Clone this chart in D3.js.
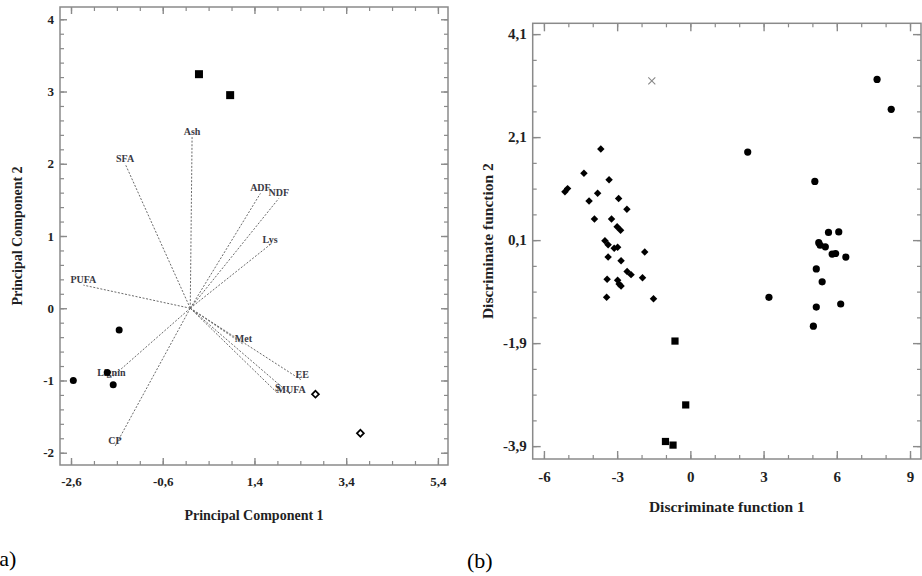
<!DOCTYPE html>
<html>
<head>
<meta charset="utf-8">
<script src="https://cdn.jsdelivr.net/npm/d3@7"></script>
<style>
  html, body { margin: 0; padding: 0; background: #fff; }
  svg { display: block; }
  text { font-family: "Liberation Serif", "DejaVu Serif", serif; }
</style>
</head>
<body>
<svg id="chart" width="922" height="576"></svg>
<script>
'use strict';

// ---- panel (a): PCA biplot ----
const pcaSquares  = [ [0.19, 3.24], [0.87, 2.95] ];
const pcaCircles  = [ [-1.55, -0.30], [-2.55, -1.00], [-1.81, -0.89], [-1.68, -1.06] ];
const pcaDiamonds = [ [2.73, -1.19], [3.71, -1.73] ];
const loadingNames = [ 'Ash', 'SFA', 'ADF', 'NDF', 'Lys', 'PUFA', 'Met', 'EE', 'S', 'MUFA', 'Lignin', 'CP' ];
const loadingX     = [ 0.04, -1.42, 1.53, 1.93, 1.74, -2.33, 1.16, 2.44, 1.91, 2.20, -1.72, -1.64 ];
const loadingY     = [ 2.37,  2.00, 1.59, 1.52, 0.88,  0.32, -0.50, -1.00, -1.18, -1.20, -0.96, -1.91 ];
const pcaXTicks = [ -2.6, -0.6, 1.4, 3.4, 5.4 ];
const pcaYTicks = [ -2, -1, 0, 1, 2, 3, 4 ];

// ---- panel (b): discriminant scores ----
const dfDiamonds = [
  [-3.67, 1.87], [-4.36, 1.40], [-3.33, 1.27], [-5.03, 1.10], [-5.14, 1.04],
  [-3.80, 1.01], [-4.15, 0.86], [-2.94, 0.91], [-2.60, 0.70], [-3.93, 0.51],
  [-3.23, 0.51], [-3.00, 0.36], [-2.86, 0.29], [-3.50, 0.09], [-3.37, 0.01],
  [-3.12, -0.06], [-2.98, -0.04], [-1.87, -0.13], [-3.37, -0.23], [-2.84, -0.30],
  [-2.59, -0.51], [-2.43, -0.57], [-1.96, -0.63], [-3.41, -0.66], [-2.98, -0.68],
  [-2.92, -0.75], [-2.84, -0.79], [-3.43, -1.01], [-1.51, -1.04]
];
const dfCircles = [
  [7.65, 3.22], [8.23, 2.64], [2.35, 1.81], [5.10, 1.24],
  [5.66, 0.25], [6.08, 0.26], [5.26, 0.05], [5.32, 0.00], [5.53, -0.03],
  [5.81, -0.17], [5.95, -0.16], [6.37, -0.23], [5.16, -0.46], [5.40, -0.71],
  [5.16, -1.20], [6.16, -1.14], [5.04, -1.57], [3.22, -1.01]
];
const dfSquares = [ [-0.63, -1.86], [-0.19, -3.10], [-1.02, -3.81], [-0.71, -3.88] ];
const dfCross   = [ [-1.58, 3.19] ];
const dfXTicks = [ -6, -3, 0, 3, 6, 9 ];
const dfYTicks = [ -3.9, -1.9, 0.1, 2.1, 4.1 ];

const svg = d3.select('#chart');
const frameColor = '#8a8a8a';
const textColor  = '#1f1f24';
const comma = (d) => String(d).replace('.', ',');

// draws frame + inward ticks on all four sides
function drawFrame(g, x, y, major, minor, opt) {
  const [x0, x1] = x.range(), [y1, y0] = y.range();
  const w = x1 - x0, h = y1 - y0;

  const sides = [
    { axis: d3.axisBottom, scale: x, t: `translate(0,${y1})` },
    { axis: d3.axisTop,    scale: x, t: `translate(0,${y0})` },
    { axis: d3.axisLeft,   scale: y, t: `translate(${x0},0)` },
    { axis: d3.axisRight,  scale: y, t: `translate(${x1},0)` }
  ];
  sides.forEach((s, i) => {
    const isX = i < 2;
    // minor
    g.append('g').attr('transform', s.t)
      .call(s.axis(s.scale).tickValues(isX ? minor.x : minor.y).tickSize(-opt.minorLen).tickFormat(''))
      .call(a => a.select('.domain').remove())
      .selectAll('line').attr('stroke', frameColor).attr('stroke-width', 1.2);
    // major
    g.append('g').attr('transform', s.t)
      .call(s.axis(s.scale).tickValues(isX ? major.x : major.y).tickSize(-opt.majorLen).tickFormat(''))
      .call(a => a.select('.domain').remove())
      .selectAll('line').attr('stroke', frameColor).attr('stroke-width', 1.4);
  });

  g.append('rect')
    .attr('x', x0).attr('y', y0).attr('width', w).attr('height', h)
    .attr('fill', 'none').attr('stroke', frameColor).attr('stroke-width', 1.5);

  // labels
  const bottom = g.append('g').attr('transform', `translate(0,${y1})`)
    .call(d3.axisBottom(x).tickValues(major.x).tickSize(0).tickPadding(opt.xPad).tickFormat(comma));
  bottom.select('.domain').remove();
  bottom.selectAll('text').attr('font-size', opt.tickFont).attr('font-weight', 'bold')
    .attr('font-family', '"Liberation Serif", serif').attr('fill', textColor);

  const left = g.append('g').attr('transform', `translate(${x0},0)`)
    .call(d3.axisLeft(y).tickValues(major.y).tickSize(0).tickPadding(opt.yPad).tickFormat(comma));
  left.select('.domain').remove();
  left.selectAll('text').attr('font-size', opt.tickFont).attr('font-weight', 'bold')
    .attr('font-family', '"Liberation Serif", serif').attr('fill', textColor);

  g.append('text')
    .attr('x', (x0 + x1) / 2).attr('y', opt.xTitleY)
    .attr('text-anchor', 'middle').attr('font-weight', 'bold')
    .attr('font-size', opt.titleFont).attr('fill', textColor)
    .text(opt.xTitle);
  g.append('text')
    .attr('transform', `translate(${opt.yTitleX},${(y0 + y1) / 2}) rotate(-90)`)
    .attr('text-anchor', 'middle').attr('dominant-baseline', 'central').attr('font-weight', 'bold')
    .attr('font-size', opt.titleFont).attr('fill', textColor)
    .text(opt.yTitle);
}

// ---------- panel (a) ----------
const xa = d3.scaleLinear().domain([-2.84, 5.62]).range([60, 448]);
const ya = d3.scaleLinear().domain([-2.17, 4.17]).range([465, 7]);
const ga = svg.append('g');

drawFrame(ga, xa, ya,
  { x: pcaXTicks, y: pcaYTicks },
  { x: d3.range(-2.6, 5.45, 0.5), y: d3.range(-2, 4.05, 0.2) },
  { majorLen: 7, minorLen: 4, tickFont: 13, titleFont: 14, xPad: 12, yPad: 6,
    xTitle: 'Principal Component 1', xTitleY: 520,
    yTitle: 'Principal Component 2', yTitleX: 17 });

// loading vectors
const loadings = loadingNames.map((n, i) => ({ name: n, x: loadingX[i], y: loadingY[i] }));
ga.append('g').selectAll('line').data(loadings).join('line')
  .attr('x1', xa(0)).attr('y1', ya(0))
  .attr('x2', d => xa(d.x)).attr('y2', d => ya(d.y))
  .attr('stroke', '#6a6a6a').attr('stroke-width', 1).attr('stroke-dasharray', '2,1.6');
ga.append('g').selectAll('text').data(loadings).join('text')
  .attr('x', d => xa(d.x)).attr('y', d => ya(d.y) - 2)
  .attr('text-anchor', 'middle').attr('font-size', 10).attr('font-weight', 'bold')
  .attr('fill', '#3a3a44')
  .text(d => d.name);

ga.append('g').selectAll('rect').data(pcaSquares).join('rect')
  .attr('x', d => xa(d[0]) - 4).attr('y', d => ya(d[1]) - 4)
  .attr('width', 8).attr('height', 8).attr('fill', '#000');
ga.append('g').selectAll('circle').data(pcaCircles).join('circle')
  .attr('cx', d => xa(d[0])).attr('cy', d => ya(d[1])).attr('r', 3.5).attr('fill', '#000');
ga.append('g').selectAll('path').data(pcaDiamonds).join('path')
  .attr('transform', d => `translate(${xa(d[0])},${ya(d[1])}) rotate(45)`)
  .attr('d', d3.symbol(d3.symbolSquare, 24))
  .attr('fill', '#fff').attr('stroke', '#000').attr('stroke-width', 1.7);

svg.append('text').attr('x', -8).attr('y', 566)
  .attr('font-size', 22).attr('fill', '#000').text('(a)');

// ---------- panel (b) ----------
const xb = d3.scaleLinear().domain([-6.46, 9.45]).range([532.7, 921]);
const yb = d3.scaleLinear().domain([-4.15, 4.31]).range([459, 23.3]);
const gb = svg.append('g');

drawFrame(gb, xb, yb,
  { x: dfXTicks, y: dfYTicks },
  { x: d3.range(-6, 9.5, 1), y: d3.range(-3.9, 4.2, 0.5) },
  { majorLen: 8, minorLen: 4, tickFont: 15, titleFont: 15.5, xPad: 12, yPad: 6,
    xTitle: 'Discriminate function 1', xTitleY: 512,
    yTitle: 'Discriminate function 2', yTitleX: 487 });

gb.append('g').selectAll('path').data(dfDiamonds).join('path')
  .attr('transform', d => `translate(${xb(d[0])},${yb(d[1])}) rotate(45)`)
  .attr('d', d3.symbol(d3.symbolSquare, 28))
  .attr('fill', '#000');
gb.append('g').selectAll('circle').data(dfCircles).join('circle')
  .attr('cx', d => xb(d[0])).attr('cy', d => yb(d[1])).attr('r', 3.6).attr('fill', '#000');
gb.append('g').selectAll('rect').data(dfSquares).join('rect')
  .attr('x', d => xb(d[0]) - 3.6).attr('y', d => yb(d[1]) - 3.6)
  .attr('width', 7.2).attr('height', 7.2).attr('fill', '#000');
gb.append('g').selectAll('path').data(dfCross).join('path')
  .attr('transform', d => `translate(${xb(d[0])},${yb(d[1])})`)
  .attr('d', 'M-3.5,-3.5L3.5,3.5M-3.5,3.5L3.5,-3.5')
  .attr('fill', 'none').attr('stroke', '#888').attr('stroke-width', 1.1);

svg.append('text').attr('x', 467).attr('y', 568)
  .attr('font-size', 22).attr('fill', '#000').text('(b)');
</script>
</body>
</html>
